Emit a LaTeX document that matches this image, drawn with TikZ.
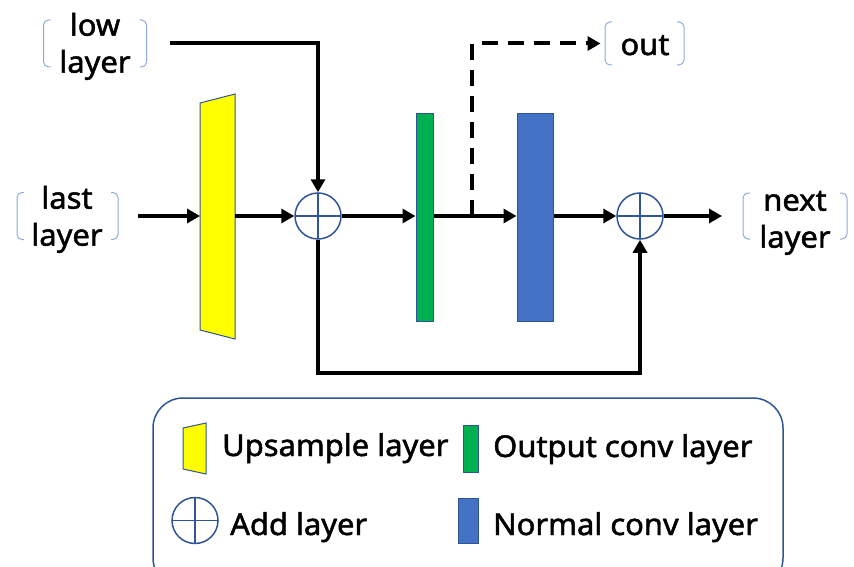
\documentclass[tikz,border=0pt]{standalone}
\usepackage{fontspec}
\setmainfont{Noto Sans}[FakeBold=1.6,FakeStretch=1.03]
\usetikzlibrary{arrows.meta,calc}
\definecolor{brkc}{HTML}{8FAADC}
\definecolor{edgeb}{HTML}{2F5597}
\definecolor{ylw}{HTML}{FFFF00}
\definecolor{grn}{HTML}{00B050}
\definecolor{blu}{HTML}{4472C4}
\newcommand\bracketsaround[3]{%
  \draw[brk] ($(#1)+(-#2+7,-#3)$) -- ($(#1)+(-#2,-#3)$) -- ($(#1)+(-#2,#3)$) -- ($(#1)+(-#2+7,#3)$);
  \draw[brk] ($(#1)+(#2-7,-#3)$) -- ($(#1)+(#2,-#3)$) -- ($(#1)+(#2,#3)$) -- ($(#1)+(#2-7,#3)$);}
\newcommand\twolines[2]{\begin{tabular}[t]{@{}c@{}}#1\\#2\end{tabular}}
\begin{document}
\begin{tikzpicture}[x=1pt,y=-1pt,
  lbl/.style={anchor=base,font=\fontsize{30}{37}\selectfont,inner sep=0pt},
  legtxt/.style={anchor=base west,font=\fontsize{30}{37}\selectfont,inner sep=0pt},
  brk/.style={draw=brkc,line width=1pt,rounded corners=5pt},
  flow/.style={line width=4pt,-{Triangle[length=13pt,width=14pt]}},
  dashflow/.style={flow,dash pattern=on 16pt off 10pt},
  layerbox/.style={draw=edgeb,line width=1pt,inner sep=0pt},
  addc/.style={circle,draw=edgeb,line width=1.5pt,minimum size=46pt,inner sep=0pt,fill=white,
    path picture={\draw[edgeb,line width=1.5pt]
      (path picture bounding box.north)--(path picture bounding box.south)
      (path picture bounding box.west)--(path picture bounding box.east);}},
  legendbox/.style={draw=edgeb,line width=1.5pt,rounded corners=30pt,inner sep=0pt}]
\useasboundingbox (0,0) rectangle (854,567);

% labels (text placed by first baseline) and their brackets
\node[lbl] (low) at (95,35.7) {\twolines{low}{layer}};
\coordinate (lowc) at (95,43.5);
\bracketsaround{lowc}{51.5}{23.5}
\node[lbl] (last) at (67,208.7) {\twolines{last}{layer}};
\coordinate (lastc) at (67.5,216);
\bracketsaround{lastc}{50.5}{23.5}
\node[lbl] (out) at (645,55) {out};
\coordinate (outc) at (644.5,43.5);
\bracketsaround{outc}{39.5}{21.5}
\node[lbl] (next) at (795,210.7) {\twolines{next}{layer}};
\coordinate (nextc) at (795,216);
\bracketsaround{nextc}{52}{23}

% upsample layer
\draw[layerbox,fill=ylw] (200,103) -- (235,94) -- (235,339) -- (200,330) -- cycle;
\coordinate (upL) at (200,216);
\coordinate (upR) at (235,216);

% add layers
\node[addc] (add1) at (318,216) {};
\node[addc] (add2) at (640,216) {};

% conv layers
\node[layerbox,fill=grn,minimum width=17,minimum height=207] (oc) at (424.5,217.5) {};
\node[layerbox,fill=blu,minimum width=36,minimum height=207] (nc) at (535,217.5) {};

% connectors
\draw[flow] ($(lastc)+(70.5,0)$) -- (upL);
\draw[flow] (upR) -- (add1.west);
\draw[flow] ($(lowc)+(75,0)$) -| (add1.north);
\draw[flow] (add1.east) -- (add1.east -| oc.west);
\coordinate (branch) at (472,216);
\draw[flow] (add1.east -| oc.east) -- (add1.east -| nc.west);
\draw[dashflow] (branch) |- ($(outc)+(-44,0)$);
\draw[flow] (add2.west -| nc.east) -- (add2.west);
\draw[flow] (add2.east) -- ($(nextc)+(-73,0)$);
\coordinate (skip) at (318,373);
\draw[flow] (add1.south) -- (skip) -| (add2.south);

% legend
\node[legendbox,minimum width=630,minimum height=190] (legend) at (468,493) {};
\draw[layerbox,fill=ylw] (183,428) -- (206,423) -- (206,474) -- (183,469) -- cycle;
\node[legtxt] (tup) at (222,456) {Upsample layer};
\node[layerbox,fill=grn,minimum width=15,minimum height=47] (lgoc) at (470.5,448.5) {};
\node[legtxt] (toc) at (493,457) {Output conv layer};
\node[addc] (lgadd) at (195,520.5) {};
\node[legtxt] (tadd) at (230,535) {Add layer};
\node[layerbox,fill=blu,minimum width=20,minimum height=45] (lgnc) at (468,520.5) {};
\node[legtxt] (tnc) at (493,535) {Normal conv layer};
\end{tikzpicture}
\end{document}
